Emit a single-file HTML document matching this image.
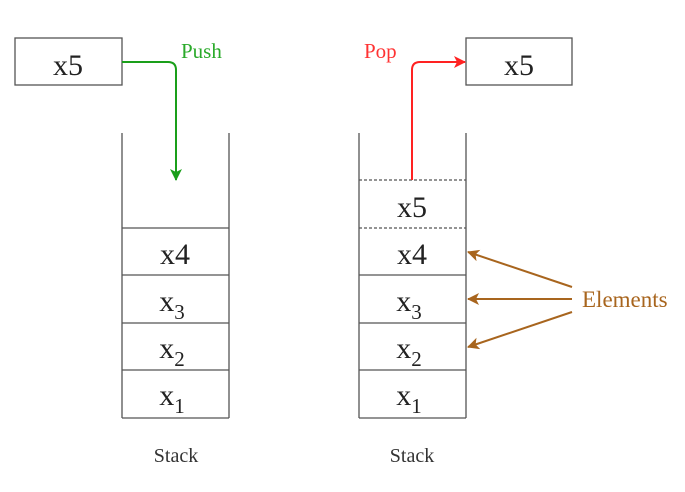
<!DOCTYPE html>
<html><head><style>body{margin:0;background:#fff}</style></head><body>
<svg width="685" height="487" viewBox="0 0 685 487" xmlns="http://www.w3.org/2000/svg" font-family="Liberation Serif, serif">
<defs>
<marker id="g" markerWidth="14" markerHeight="14" refX="11" refY="6" orient="auto" markerUnits="userSpaceOnUse"><path d="M0,0 L12,6 L0,12 L3,6Z" fill="#1a9f1a"/></marker>
<marker id="r" markerWidth="14" markerHeight="14" refX="11" refY="6" orient="auto" markerUnits="userSpaceOnUse"><path d="M0,0 L12,6 L0,12 L3,6Z" fill="#f22"/></marker>
<marker id="b" markerWidth="14" markerHeight="14" refX="11" refY="6" orient="auto" markerUnits="userSpaceOnUse"><path d="M0,0 L12,6 L0,12 L3,6Z" fill="#a8651e"/></marker>
</defs>
<g stroke="#555" stroke-width="1.3" fill="none">
<rect x="15" y="38" width="107" height="47"/>
<rect x="466" y="38" width="106" height="47"/>
<line x1="122" y1="133" x2="122" y2="418"/><line x1="229" y1="133" x2="229" y2="418"/>
<line x1="122" y1="228" x2="229" y2="228"/><line x1="122" y1="275" x2="229" y2="275"/><line x1="122" y1="323" x2="229" y2="323"/><line x1="122" y1="370" x2="229" y2="370"/><line x1="122" y1="418" x2="229" y2="418"/>
<line x1="359" y1="133" x2="359" y2="418"/><line x1="466" y1="133" x2="466" y2="418"/>
<line x1="359" y1="180" x2="466" y2="180" stroke-dasharray="3,2"/><line x1="359" y1="228" x2="466" y2="228" stroke-dasharray="3,2"/>
<line x1="359" y1="275" x2="466" y2="275"/><line x1="359" y1="323" x2="466" y2="323"/><line x1="359" y1="370" x2="466" y2="370"/><line x1="359" y1="418" x2="466" y2="418"/>
</g>
<path d="M122,62 H168 Q176,62 176,70 V180" stroke="#1a9f1a" stroke-width="2" fill="none" marker-end="url(#g)"/>
<path d="M412,180 V70 Q412,62 420,62 H465" stroke="#f22" stroke-width="2" fill="none" marker-end="url(#r)"/>
<g stroke="#a8651e" stroke-width="2" fill="none">
<line x1="572" y1="287" x2="468" y2="252" marker-end="url(#b)"/>
<line x1="572" y1="299" x2="468" y2="299" marker-end="url(#b)"/>
<line x1="572" y1="312" x2="468" y2="347" marker-end="url(#b)"/>
</g>
<g fill="#222" font-size="30" text-anchor="middle">
<text x="68" y="75">x5</text><text x="519" y="75">x5</text>
<text x="412" y="217">x5</text>
<text x="175" y="264">x4</text><text x="412" y="264">x4</text>
<text x="172" y="311">x<tspan font-size="21" dy="8">3</tspan></text><text x="409" y="311">x<tspan font-size="21" dy="8">3</tspan></text>
<text x="172" y="358">x<tspan font-size="21" dy="8">2</tspan></text><text x="409" y="358">x<tspan font-size="21" dy="8">2</tspan></text>
<text x="172" y="405">x<tspan font-size="21" dy="8">1</tspan></text><text x="409" y="405">x<tspan font-size="21" dy="8">1</tspan></text>
</g>
<text x="181" y="58" fill="#2aaa2a" font-size="21">Push</text>
<text x="364" y="58" fill="#f33" font-size="21">Pop</text>
<text x="582" y="307" fill="#a8651e" font-size="23">Elements</text>
<text x="176" y="462" fill="#333" font-size="20" text-anchor="middle">Stack</text>
<text x="412" y="462" fill="#333" font-size="20" text-anchor="middle">Stack</text>
</svg>
</body></html>
